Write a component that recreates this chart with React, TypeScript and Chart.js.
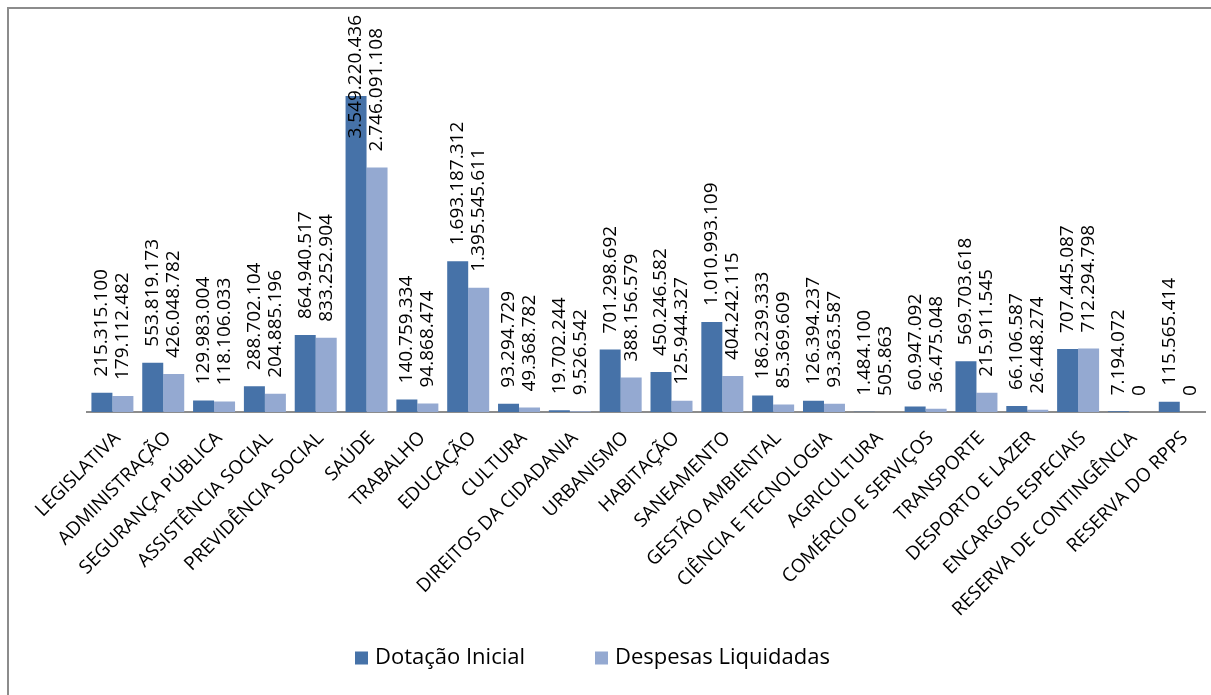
import React, { useEffect, useRef } from "react";
import { Chart, registerables } from "chart.js";

Chart.register(...registerables);

const categories = [
  "LEGISLATIVA",
  "ADMINISTRAÇÃO",
  "SEGURANÇA PÚBLICA",
  "ASSISTÊNCIA SOCIAL",
  "PREVIDÊNCIA SOCIAL",
  "SAÚDE",
  "TRABALHO",
  "EDUCAÇÃO",
  "CULTURA",
  "DIREITOS DA CIDADANIA",
  "URBANISMO",
  "HABITAÇÃO",
  "SANEAMENTO",
  "GESTÃO AMBIENTAL",
  "CIÊNCIA E TECNOLOGIA",
  "AGRICULTURA",
  "COMÉRCIO E SERVIÇOS",
  "TRANSPORTE",
  "DESPORTO E LAZER",
  "ENCARGOS ESPECIAIS",
  "RESERVA DE CONTINGÊNCIA",
  "RESERVA DO RPPS",
];

const dotacaoInicial = [
  215315100, 553819173, 129983004, 288702104, 864940517, 3549220436,
  140759334, 1693187312, 93294729, 19702244, 701298692, 450246582,
  1010993109, 186239333, 126394237, 1484100, 60947092, 569703618,
  66106587, 707445087, 7194072, 115565414,
];

const despesasLiquidadas = [
  179112482, 426048782, 118106033, 204885196, 833252904, 2746091108,
  94868474, 1395545611, 49368782, 9526542, 388156579, 125944327,
  404242115, 85369609, 93363587, 505863, 36475048, 215911545,
  26448274, 712294798, 0, 0,
];

const seriesNames = ["Dotação Inicial", "Despesas Liquidadas"];
const seriesColors = ["#4672A8", "#94A9D1"];

const FONT = "'Open Sans', 'Noto Sans', sans-serif";

function fmt(n: number): string {
  return Math.round(n)
    .toString()
    .replace(/\B(?=(\d{3})+(?!\d))/g, ".");
}

const overlayPlugin = {
  id: "overlay",
  afterDatasetsDraw(chart: any) {
    const ctx = chart.ctx;
    ctx.save();
    ctx.font = `19px ${FONT}`;
    ctx.fillStyle = "#000";
    ctx.textBaseline = "middle";
    chart.data.datasets.forEach((ds: any, di: number) => {
      const meta = chart.getDatasetMeta(di);
      meta.data.forEach((el: any, i: number) => {
        const text = fmt(ds.data[i]);
        const w = ctx.measureText(text).width;
        const top = Math.max(15, el.y - 16 - w);
        ctx.save();
        ctx.translate(el.x, top);
        ctx.rotate(-Math.PI / 2);
        ctx.textAlign = "right";
        ctx.fillText(text, 0, 0);
        ctx.restore();
      });
    });
    ctx.restore();
  },
  afterDraw(chart: any) {
    const ctx = chart.ctx;
    ctx.save();
    // frame
    ctx.strokeStyle = "#8c8c8c";
    ctx.lineWidth = 2;
    ctx.beginPath();
    ctx.moveTo(8, 700);
    ctx.lineTo(8, 8);
    ctx.lineTo(1215, 8);
    ctx.stroke();
    // legend
    const xs = [355, 595];
    const cy = 658;
    ctx.font = `22px ${FONT}`;
    ctx.textBaseline = "middle";
    ctx.textAlign = "left";
    chart.data.datasets.forEach((ds: any, di: number) => {
      ctx.fillStyle = ds.backgroundColor;
      ctx.fillRect(xs[di], cy - 6.5, 13, 13);
      ctx.fillStyle = "#000";
      ctx.fillText(ds.label, xs[di] + 20, cy);
    });
    ctx.restore();
  },
};

export default function App() {
  const ref = useRef<HTMLCanvasElement | null>(null);

  useEffect(() => {
    if (!ref.current) return;
    const chart = new Chart(ref.current, {
      type: "bar",
      data: {
        labels: categories,
        datasets: [
          {
            label: seriesNames[0],
            data: dotacaoInicial,
            backgroundColor: seriesColors[0],
            categoryPercentage: 0.826,
            barPercentage: 1,
          },
          {
            label: seriesNames[1],
            data: despesasLiquidadas,
            backgroundColor: seriesColors[1],
            categoryPercentage: 0.826,
            barPercentage: 1,
          },
        ],
      },
      options: {
        responsive: false,
        animation: false,
        layout: { padding: { left: 87, right: 5, top: 56, bottom: 0 } },
        plugins: {
          legend: { display: false },
          tooltip: { enabled: false },
        },
        scales: {
          x: {
            grid: { display: false, drawTicks: false },
            border: { display: true, color: "#8c8c8c", width: 2 },
            ticks: {
              autoSkip: false,
              minRotation: 45,
              maxRotation: 45,
              padding: 15,
              labelOffset: 5,
              color: "#000",
              font: { family: FONT, size: 19 },
            },
            afterFit: (scale: any) => {
              scale.height = 283;
            },
          },
          y: {
            display: false,
            min: 0,
            max: 4000000000,
          },
        },
      },
      plugins: [overlayPlugin],
    });
    return () => chart.destroy();
  }, []);

  return (
    <div style={{ position: "absolute", left: 0, top: 0, width: 1211, height: 695, background: "#fff" }}>
      <canvas ref={ref} width={1211} height={695} />
    </div>
  );
}
